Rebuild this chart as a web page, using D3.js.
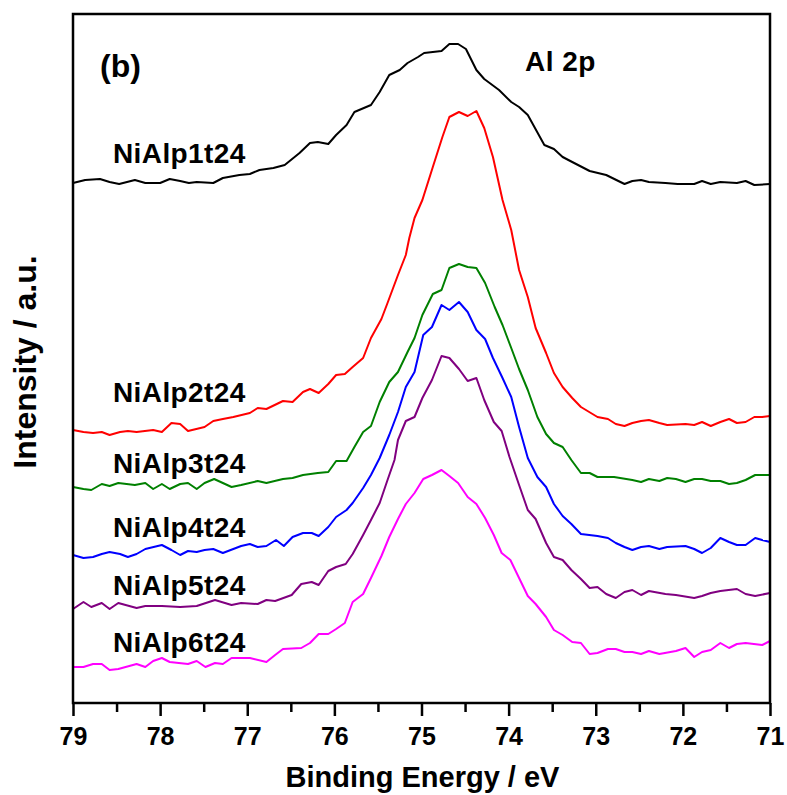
<!DOCTYPE html>
<html>
<head>
<meta charset="utf-8">
<script src="https://cdn.jsdelivr.net/npm/d3@7"></script>
<style>
  body { margin: 0; background: #fff; }
  svg text { font-family: Arial, "Liberation Sans", sans-serif; font-weight: bold; }
</style>
</head>
<body>
<div id="chart-area"></div>
<script>
// Al 2p spectra, [binding energy (eV), intensity (a.u., offset per curve)]
var nialp1 = [[79.00,514],[78.86,517],[78.69,518],[78.58,515],[78.47,513],[78.29,517],[78.17,514],[78.00,514],
  [77.89,518],[77.77,516],[77.67,514],[77.58,515],[77.39,514],[77.28,519],[77.09,522],[76.97,523],[76.86,527],
  [76.70,529],[76.57,532],[76.40,544],[76.28,554],[76.19,555],[76.07,553],[75.98,562],[75.86,572],[75.77,585],
  [75.58,592],[75.48,605],[75.37,622],[75.25,627],[75.16,634],[75.04,640],[74.97,644],[74.77,646],[74.68,653],
  [74.58,653],[74.49,648],[74.37,627],[74.28,618],[74.11,607],[73.97,595],[73.88,590],[73.78,582],[73.59,552],
  [73.48,548],[73.38,540],[73.27,535],[73.07,526],[72.88,522],[72.67,513],[72.58,516],[72.48,517],[72.39,515],
  [72.20,514],[72.06,513],[71.87,513],[71.78,516],[71.68,513],[71.57,515],[71.38,514],[71.28,516],[71.18,512],[71.00,513]];

var nialp2 = [[79.00,267],[78.88,265],[78.77,264],[78.67,265],[78.58,262],[78.46,265],[78.37,266],[78.27,265],
  [78.08,267],[77.98,265],[77.87,274],[77.77,273],[77.68,266],[77.49,270],[77.39,276],[77.28,278],[77.16,280],
  [76.97,284],[76.88,289],[76.78,288],[76.59,296],[76.48,295],[76.36,305],[76.28,308],[76.18,304],[76.07,313],
  [75.98,322],[75.88,323],[75.79,330],[75.67,339],[75.58,359],[75.46,378],[75.39,394],[75.27,422],[75.18,442],
  [75.14,459],[75.08,479],[74.99,497],[74.87,530],[74.76,560],[74.68,580],[74.57,585],[74.47,581],[74.37,586],
  [74.28,569],[74.18,540],[74.07,497],[73.97,467],[73.88,427],[73.78,400],[73.69,369],[73.57,344],[73.48,324],
  [73.38,310],[73.27,299],[73.17,290],[72.98,280],[72.86,278],[72.77,273],[72.67,271],[72.58,274],[72.48,276],
  [72.39,277],[72.27,274],[72.18,272],[71.97,273],[71.87,272],[71.78,275],[71.68,271],[71.57,275],[71.47,278],
  [71.38,274],[71.28,275],[71.18,280],[71.09,280],[71.00,281]];

var nialp3 = [[79.00,210],[78.88,208],[78.79,207],[78.67,213],[78.58,211],[78.48,214],[78.29,212],[78.17,214],
  [78.08,208],[77.98,213],[77.89,208],[77.77,213],[77.68,214],[77.58,208],[77.49,214],[77.38,218],[77.28,214],
  [77.18,210],[77.07,212],[76.88,216],[76.78,214],[76.59,218],[76.48,219],[76.36,222],[76.19,224],[76.07,225],
  [75.98,236],[75.86,236],[75.77,250],[75.67,265],[75.58,271],[75.48,295],[75.37,315],[75.27,325],[75.16,345],
  [75.08,359],[74.99,382],[74.87,403],[74.77,407],[74.68,429],[74.57,433],[74.47,430],[74.37,429],[74.27,414],
  [74.16,390],[74.07,372],[73.97,349],[73.88,328],[73.78,307],[73.67,280],[73.57,263],[73.48,254],[73.38,250],
  [73.28,237],[73.17,224],[73.07,224],[72.98,220],[72.79,220],[72.58,217],[72.48,215],[72.39,218],[72.27,216],
  [72.18,219],[72.08,218],[71.97,215],[71.87,218],[71.78,218],[71.68,216],[71.57,216],[71.47,213],[71.38,214],
  [71.28,217],[71.17,222],[71.09,222],[71.00,222]];

var nialp4 = [[79.00,142],[78.88,139],[78.77,140],[78.67,143],[78.58,145],[78.46,143],[78.37,140],[78.27,143],
  [78.17,148],[77.98,152],[77.87,147],[77.77,142],[77.68,146],[77.58,145],[77.49,147],[77.39,148],[77.28,144],
  [77.16,148],[77.07,151],[76.97,153],[76.88,150],[76.78,151],[76.67,157],[76.58,151],[76.48,160],[76.36,164],
  [76.26,164],[76.18,161],[76.07,170],[75.98,180],[75.86,187],[75.79,194],[75.67,209],[75.58,222],[75.48,239],
  [75.37,262],[75.27,285],[75.18,310],[75.08,325],[74.98,362],[74.88,370],[74.77,392],[74.68,387],[74.57,395],
  [74.47,385],[74.37,367],[74.27,358],[74.18,339],[74.07,319],[73.97,300],[73.88,270],[73.78,239],[73.67,220],
  [73.57,210],[73.48,193],[73.38,181],[73.28,173],[73.17,163],[72.98,161],[72.86,159],[72.77,154],[72.67,150],
  [72.58,147],[72.48,150],[72.39,151],[72.27,148],[72.18,150],[71.97,151],[71.87,148],[71.78,144],[71.68,149],
  [71.57,159],[71.47,155],[71.38,152],[71.28,152],[71.17,159],[71.09,157],[71.00,155]];

var nialp5 = [[79.00,88],[78.88,95],[78.79,90],[78.67,94],[78.58,88],[78.48,94],[78.27,89],[78.17,91],
  [77.98,91],[77.77,90],[77.58,91],[77.37,97],[77.18,92],[77.07,94],[76.88,93],[76.78,97],[76.68,96],[76.49,102],
  [76.38,113],[76.26,115],[76.18,112],[76.07,126],[75.98,130],[75.87,133],[75.79,143],[75.67,162],[75.58,177],
  [75.48,194],[75.39,217],[75.31,237],[75.27,257],[75.18,276],[75.08,280],[74.99,299],[74.88,317],[74.77,341],
  [74.68,339],[74.57,328],[74.47,316],[74.37,319],[74.28,297],[74.17,275],[74.08,266],[73.99,240],[73.88,212],
  [73.78,187],[73.69,178],[73.57,154],[73.48,140],[73.38,137],[73.28,127],[73.17,118],[73.07,109],[72.98,110],
  [72.88,103],[72.77,99],[72.67,105],[72.58,107],[72.48,102],[72.39,106],[72.20,103],[72.08,102],[71.87,99],
  [71.78,101],[71.68,104],[71.57,106],[71.38,108],[71.28,103],[71.17,101],[71.00,104]];

var nialp6 = [[79.00,30],[78.88,30],[78.77,33],[78.67,33],[78.58,27],[78.48,28],[78.27,33],[78.17,30],
  [78.08,36],[77.98,39],[77.89,35],[77.68,33],[77.58,36],[77.48,30],[77.37,34],[77.28,33],[77.18,39],[76.97,39],
  [76.78,35],[76.68,42],[76.59,48],[76.38,49],[76.28,54],[76.18,63],[76.07,63],[75.98,68],[75.88,74],[75.79,95],
  [75.67,103],[75.58,119],[75.46,141],[75.37,160],[75.27,178],[75.18,193],[75.08,204],[74.98,218],[74.88,222],
  [74.77,227],[74.68,221],[74.58,214],[74.47,200],[74.37,193],[74.27,179],[74.17,162],[74.08,144],[73.98,137],
  [73.88,119],[73.78,101],[73.69,93],[73.57,80],[73.48,67],[73.38,62],[73.27,55],[73.17,54],[73.07,43],
  [72.98,44],[72.86,48],[72.77,48],[72.67,45],[72.58,45],[72.48,43],[72.39,46],[72.27,43],[72.08,46],
  [71.97,49],[71.87,40],[71.78,45],[71.68,47],[71.57,54],[71.47,49],[71.38,53],[71.28,54],[71.09,52],[71.00,56]];

var seriesNames = ["NiAlp1t24", "NiAlp2t24", "NiAlp3t24", "NiAlp4t24", "NiAlp5t24", "NiAlp6t24"];
var seriesData = [nialp1, nialp2, nialp3, nialp4, nialp5, nialp6];
var seriesColors = ["#000000", "#ff0000", "#008000", "#0000ff", "#800080", "#ff00ff"];
// intensity where each name label sits (baseline)
var labelLevels = [534, 295, 224, 160, 102, 45];

var majorTicks = [79, 78, 77, 76, 75, 74, 73, 72, 71];
var minorTicks = [78.5, 77.5, 76.5, 75.5, 74.5, 73.5, 72.5, 71.5];

var margin = { left: 73, right: 17, top: 14, bottom: 92 };
var width = 787 - margin.left - margin.right,
    height = 795 - margin.top - margin.bottom;

var svg = d3.select("#chart-area")
  .append("svg")
    .attr("width", 787)
    .attr("height", 795)
  .append("g")
    .attr("transform", "translate(" + margin.left + "," + margin.top + ")");

var x = d3.scaleLinear()
  .domain([79, 71])
  .range([0, width]);

var y = d3.scaleLinear()
  .domain([-6, 683])
  .range([height, 0]);

var line = d3.line()
  .x(function(d) { return x(d[0]); })
  .y(function(d) { return y(d[1]); });

svg.selectAll(".spectrum")
  .data(seriesData).enter()
  .append("path")
    .attr("class", "spectrum")
    .attr("d", line)
    .attr("fill", "none")
    .attr("stroke", function(d, i) { return seriesColors[i]; })
    .attr("stroke-width", 2)
    .attr("stroke-linejoin", "round");

// series names
svg.selectAll(".name")
  .data(seriesNames).enter()
  .append("text")
    .attr("class", "name")
    .attr("x", 40)
    .attr("y", function(d, i) { return y(labelLevels[i]); })
    .attr("font-size", "28px")
    .attr("letter-spacing", "0.4px")
    .text(function(d) { return d; });

// frame
svg.append("rect")
  .attr("width", width)
  .attr("height", height)
  .attr("fill", "none")
  .attr("stroke", "#000")
  .attr("stroke-width", 2.5);

// minor ticks
svg.append("g")
  .attr("transform", "translate(0," + height + ")")
  .call(d3.axisBottom(x).tickValues(minorTicks).tickSize(9).tickFormat(""))
  .call(function(g) {
    g.select(".domain").remove();
    g.selectAll("line").attr("stroke-width", 2.5);
  });

// major ticks and labels
var xAxisCall = d3.axisBottom(x)
  .tickValues(majorTicks)
  .tickSize(13)
  .tickPadding(11)
  .tickFormat(d3.format("d"));

svg.append("g")
  .attr("class", "x axis")
  .attr("transform", "translate(0," + height + ")")
  .call(xAxisCall)
  .call(function(g) {
    g.select(".domain").remove();
    g.selectAll("line").attr("stroke-width", 2.5);
    g.selectAll("text")
      .attr("font-size", "25px")
      .attr("font-family", "Arial, 'Liberation Sans', sans-serif")
      .attr("font-weight", "bold")
      .attr("fill", "#000");
  });

// X Label
svg.append("text")
  .attr("x", width / 2 + 1)
  .attr("y", height + 84)
  .attr("font-size", "29px")
  .attr("text-anchor", "middle")
  .text("Binding Energy / eV");

// Y Label
svg.append("text")
  .attr("x", -348)
  .attr("y", -37)
  .attr("font-size", "32px")
  .attr("text-anchor", "middle")
  .attr("transform", "rotate(-90)")
  .text("Intensity / a.u.");

// panel tag and region
svg.append("text")
  .attr("x", 27)
  .attr("y", 63)
  .attr("font-size", "32px")
  .text("(b)");

svg.append("text")
  .attr("x", 452)
  .attr("y", 57)
  .attr("font-size", "28px")
  .attr("letter-spacing", "0.5px")
  .text("Al 2p");
</script>
</body>
</html>
